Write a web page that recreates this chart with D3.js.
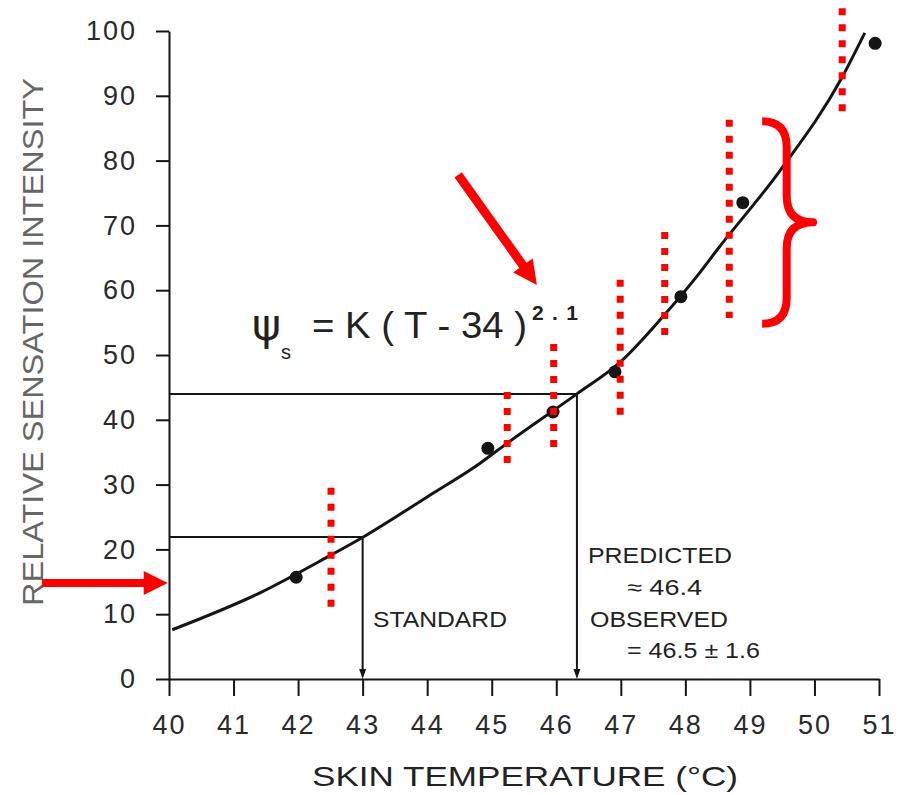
<!DOCTYPE html>
<html><head><meta charset="utf-8">
<script src="https://cdn.jsdelivr.net/npm/d3@7"></script>
<style>body{margin:0;background:#fff}svg{display:block}</style>
</head><body><svg id="c" width="903" height="795"></svg>
<script>
// ---- data ----
const xTicks = [40,41,42,43,44,45,46,47,48,49,50,51];
const yTicks = [0,10,20,30,40,50,60,70,80,90,100];
// fitted curve, points
const curveT = [40.05, 41.41, 42.45, 42.99, 44.0, 44.82, 45.24, 46.32, 46.99, 47.65, 48.23, 48.49, 49.47, 50.42, 50.78];
const curveI = [7.6, 13.3, 18.8, 21.8, 28.1, 33.3, 36.4, 44.0, 48.9, 55.9, 62.8, 66.2, 78.5, 92.7, 99.7];
// observed data points
const pointT = [41.97, 44.94, 45.95, 46.91, 47.93, 48.89, 50.94];
const pointI = [15.7, 35.6, 41.2, 47.4, 59.0, 73.5, 98.1];
// reference (drop) lines: standard and predicted
const refT = [43.0, 46.32];
const refI = [21.9, 44.0];
// red dotted annotation lines
const redT = [42.51, 45.24, 45.96, 46.99, 47.68, 48.68, 50.43];
const redTop = [29.5, 44.3, 51.7, 61.6, 69.0, 86.3, 103.5];
const redBottom = [11.1, 33.3, 35.8, 40.6, 53.1, 55.7, 87.5];
// red arrows: tail and tip in data units
const arrowTailT = [44.48, 38.03], arrowTailI = [77.8, 14.8];
const arrowTipT = [45.70, 39.98], arrowTipI = [60.8, 14.8];
// red curly brace
const braceT = [49.19, 49.57, 49.98]; // open end, stem, tip
const braceI = [86.7, 70.5, 54.2];   // top, tip, bottom

const svg = d3.select('#c');
const FONT = "'Liberation Sans', Arial, sans-serif";
const x = d3.scaleLinear().domain([40,51]).range([169,879]);
const y = d3.scaleLinear().domain([0,100]).range([679,31]);
const ink = '#151515';

// axes
const gy = svg.append('g').attr('transform','translate(169,0)')
  .call(d3.axisLeft(y).tickValues(yTicks).tickSize(13).tickSizeOuter(0).tickPadding(19));
const gx = svg.append('g').attr('transform','translate(0,679)')
  .call(d3.axisBottom(x).tickValues(xTicks).tickSize(17).tickSizeOuter(0).tickPadding(19));
[gy,gx].forEach(g=>{
  g.selectAll('path,line').attr('stroke',ink).attr('stroke-width',2);
  g.selectAll('text').attr('font-family',FONT).attr('font-size',27)
   .attr('fill','#2a2a2a').style('letter-spacing','2px');
});

// axis titles
svg.append('text').attr('transform','translate(43,342) rotate(-90)')
  .attr('text-anchor','middle').attr('font-family',FONT).attr('font-size',30)
  .attr('fill','#666').attr('textLength',528).attr('lengthAdjust','spacingAndGlyphs')
  .text('RELATIVE SENSATION INTENSITY');
svg.append('text').attr('x',312).attr('y',786)
  .attr('font-family',FONT).attr('font-size',28).attr('fill','#222')
  .attr('textLength',426).attr('lengthAdjust','spacingAndGlyphs')
  .text('SKIN TEMPERATURE (°C)');

// reference lines
refT.forEach((t,i)=>{
  svg.append('line').attr('x1',x(40)).attr('x2',x(t)).attr('y1',y(refI[i])).attr('y2',y(refI[i]))
    .attr('stroke',ink).attr('stroke-width',2);
  svg.append('line').attr('x1',x(t)).attr('x2',x(t)).attr('y1',y(refI[i])).attr('y2',y(0)-4)
    .attr('stroke',ink).attr('stroke-width',2);
  svg.append('path').attr('d',`M${x(t)-3.5},${y(0)-10}L${x(t)+3.5},${y(0)-10}L${x(t)},${y(0)}Z`).attr('fill',ink);
});

// curve
const pts = curveT.map((t,i)=>[t,curveI[i]]);
svg.append('path').datum(pts)
  .attr('d',d3.line().x(d=>x(d[0])).y(d=>y(d[1])).curve(d3.curveMonotoneX))
  .attr('fill','none').attr('stroke',ink).attr('stroke-width',3);

// points
svg.selectAll('circle.pt').data(pointT).enter().append('circle')
  .attr('cx',d=>x(d)).attr('cy',(d,i)=>y(pointI[i])).attr('r',6.5).attr('fill',ink);

// annotation texts
const txt=(s,x0,y0,len,fs)=>svg.append('text').attr('x',x0).attr('y',y0)
  .attr('font-family',FONT).attr('font-size',fs||22).attr('fill','#222')
  .attr('textLength',len).attr('lengthAdjust','spacingAndGlyphs').text(s);
txt('STANDARD',373,627,134);
txt('PREDICTED',588,563,144);
txt('≈ 46.4',627,595,75);
txt('OBSERVED',590,627,138);
txt('= 46.5 ± 1.6',627,658,133);

// formula
svg.append('text').attr('x',252).attr('y',340).attr('font-family',"'DejaVu Sans', sans-serif")
  .attr('font-size',44).attr('fill','#222').text('ψ');
svg.append('text').attr('x',281).attr('y',359).attr('font-family',FONT)
  .attr('font-size',20).attr('fill','#222').text('s');
txt('= K ( T - 34 )',312,338,215,36);
svg.append('text').attr('x',532).attr('y',320).attr('font-family',FONT).attr('font-weight','bold')
  .attr('font-size',21).attr('fill','#222').attr('textLength',46).attr('lengthAdjust','spacing').text('2.1');

// red dotted lines
const red = '#ff0000';
redT.forEach((t,i)=>{
  svg.append('line').attr('x1',x(t)).attr('x2',x(t)).attr('y1',y(redTop[i])).attr('y2',y(redBottom[i]))
    .attr('stroke',red).attr('stroke-width',7).attr('stroke-dasharray','7 9');
});

// red arrows
arrowTailT.forEach((t,i)=>{
  const x0=x(t), y0=y(arrowTailI[i]), x1=x(arrowTipT[i]), y1=y(arrowTipI[i]);
  const dx=x1-x0, dy=y1-y0, L=Math.hypot(dx,dy), ux=dx/L, uy=dy/L, nx=-uy, ny=ux;
  const hl=24, hw=12, sw=i===0?4.5:4;
  const bx=x1-ux*hl, by=y1-uy*hl;
  const p=[[x0+nx*sw,y0+ny*sw],[bx+nx*sw,by+ny*sw],[bx+nx*hw,by+ny*hw],[x1,y1],
           [bx-nx*hw,by-ny*hw],[bx-nx*sw,by-ny*sw],[x0-nx*sw,y0-ny*sw]];
  svg.append('path').attr('d','M'+p.map(q=>q.join(',')).join('L')+'Z').attr('fill',red);
});

// red curly brace
{
  const xo=x(braceT[0]), xs=x(braceT[1]), xt=x(braceT[2]);
  const yt=y(braceI[0]), ym=y(braceI[1]), yb=y(braceI[2]);
  const d=`M${xo},${yt+4} Q${xs},${yt+4} ${xs},${yt+30} L${xs},${ym-26} Q${xs},${ym} ${xt},${ym}`+
          ` Q${xs},${ym} ${xs},${ym+26} L${xs},${yb-30} Q${xs},${yb-4} ${xo},${yb-4}`;
  svg.append('path').attr('d',d).attr('fill','none').attr('stroke',red).attr('stroke-width',8)
    .attr('stroke-linejoin','round');
}
</script></body></html>
